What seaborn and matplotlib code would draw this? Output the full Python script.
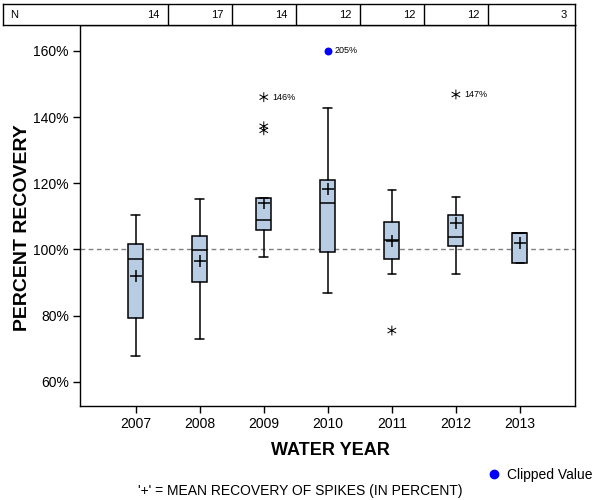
import matplotlib
matplotlib.use("Agg")
import matplotlib.pyplot as plt
from matplotlib.path import Path
from matplotlib.lines import Line2D
import pandas as pd
import seaborn as sns

# box statistics (percent recovery)
years = ['2007', '2008', '2009', '2010', '2011', '2012', '2013']
n_counts = [14, 17, 14, 12, 12, 12, 3]
q1 = [79.2, 90.3, 106.0, 99.1, 97.0, 101.0, 95.8]
medians = [97.0, 99.7, 108.8, 113.9, 102.8, 103.9, 105.0]
q3 = [101.5, 104.2, 115.5, 121.1, 108.4, 110.5, 105.0]
whis_lo = [67.8, 72.8, 97.7, 86.8, 92.7, 92.5, 95.8]
whis_hi = [110.3, 115.1, 115.5, 142.8, 118.0, 115.9, 105.0]
means = [92.0, 96.6, 114.1, 118.3, 102.4, 108.0, 101.9]

# outliers (asterisks); some carry a value label
outlier_years = ['2009', '2009', '2009', '2011', '2012']
outlier_values = [146.0, 137.2, 136.0, 75.5, 146.8]
outlier_labels = ['146%', '', '', '', '147%']

# values beyond the plot top, drawn at the clip level
clip_level = 160
clipped_years = ['2010']
clipped_values = [205]

sns.set_style("white")
plt.rcParams['font.family'] = ['Liberation Sans', 'DejaVu Sans']
plt.rcParams['text.color'] = 'black'
plt.rcParams['axes.labelcolor'] = 'black'
plt.rcParams['xtick.color'] = 'black'
plt.rcParams['ytick.color'] = 'black'

fig = plt.figure(figsize=(6, 5), dpi=100)
ax = fig.add_axes([80 / 600, 94 / 500, 495 / 600, 381 / 500])

pos = {y: i for i, y in enumerate(years)}
stats = []
for i, y in enumerate(years):
    stats.append(dict(label=y, med=medians[i], q1=q1[i], q3=q3[i],
                      whislo=whis_lo[i], whishi=whis_hi[i], fliers=[]))

ax.axhline(100, color='#808080', lw=1, ls=(0, (3.4, 2.5)), zorder=1)

ax.bxp(stats, positions=range(len(years)), widths=0.235, capwidths=0.135,
       patch_artist=True, showfliers=False, manage_ticks=False,
       boxprops=dict(facecolor='#b8cce4', edgecolor='black', linewidth=1.1),
       medianprops=dict(color='black', linewidth=1.1),
       whiskerprops=dict(color='black', linewidth=1.1),
       capprops=dict(color='black', linewidth=1.1))

# means as '+'
mean_df = pd.DataFrame({'x': range(len(years)), 'mean': means})
sns.scatterplot(data=mean_df, x='x', y='mean', marker='+', s=70,
                color='black', linewidth=1.1, ax=ax, zorder=5)

# asterisk outliers
asterisk = Path([(0, -1), (0, 1), (-0.87, -0.5), (0.87, 0.5), (-0.87, 0.5), (0.87, -0.5)],
                [Path.MOVETO, Path.LINETO] * 3)
out_x = [pos[y] for y in outlier_years]
ax.scatter(out_x, outlier_values, marker=asterisk, s=50, facecolors='none',
           edgecolors='black', linewidths=0.7, zorder=5)
for x, v, lab in zip(out_x, outlier_values, outlier_labels):
    if lab:
        ax.annotate(lab, (x, v), xytext=(6, 0), textcoords='offset points',
                    va='center', ha='left', fontsize=6.5)

# clipped values
clip_x = [pos[y] for y in clipped_years]
ax.scatter(clip_x, [clip_level] * len(clip_x), marker='o', s=22, color='blue',
           zorder=5, clip_on=False)
for x, v in zip(clip_x, clipped_values):
    ax.annotate(f'{v}%', (x, clip_level), xytext=(5, 0), textcoords='offset points',
                va='center', ha='left', fontsize=6.5)

ax.set_xlim(-0.87, 6.86)
ax.set_ylim(52.7, 167.8)
ax.set_xticks(range(len(years)))
ax.set_xticklabels(years)
ax.set_yticks([60, 80, 100, 120, 140, 160])
ax.set_yticklabels([f'{t}%' for t in [60, 80, 100, 120, 140, 160]])
ax.tick_params(axis='both', direction='out', length=5, width=1, color='black',
               labelsize=10, pad=3, bottom=True, left=True)
for s in ax.spines.values():
    s.set_color('black')
    s.set_linewidth(1)

ax.set_xlabel('WATER YEAR', fontsize=13, fontweight='bold')
ax.set_ylabel('PERCENT RECOVERY', fontsize=14, fontweight='bold')
ax.xaxis.set_label_coords((330 - 80) / 495, (406 - 442) / 381)
ax.yaxis.set_label_coords((31 - 80) / 495, (406 - 228) / 381)

# N table across the top
tab = fig.add_axes([3 / 600, 475 / 500, 572 / 600, 21 / 500])
tab.set_xlim(-0.87 - 77 / 64, 6.86)
tab.set_ylim(0, 1)
tab.set_xticks([])
tab.set_yticks([])
for s in tab.spines.values():
    s.set_color('black')
    s.set_linewidth(1)
for i in range(len(years) - 1):
    tab.axvline(i + 0.5, color='black', lw=1)
tab.text(7 / 64 - 0.87 - 77 / 64, 0.5, 'N', va='center', ha='left', fontsize=8)
right_edges = [i + 0.5 for i in range(len(years) - 1)] + [6.86]
for r, n in zip(right_edges, n_counts):
    tab.text(r - 8 / 64, 0.5, str(n), va='center', ha='right', fontsize=8)

# legend and footnote
ax.legend(handles=[Line2D([], [], marker='o', ls='', color='blue', markersize=6,
                          label='Clipped Value')],
          loc='center right', bbox_to_anchor=(598 / 600, 25 / 500),
          bbox_transform=fig.transFigure, frameon=False, fontsize=10,
          handletextpad=0.4, borderaxespad=0, handlelength=1)
fig.text(0.5, 9 / 500, "'+' = MEAN RECOVERY OF SPIKES (IN PERCENT)",
         ha='center', va='center', fontsize=10)

fig.savefig('out.png', dpi=100)
